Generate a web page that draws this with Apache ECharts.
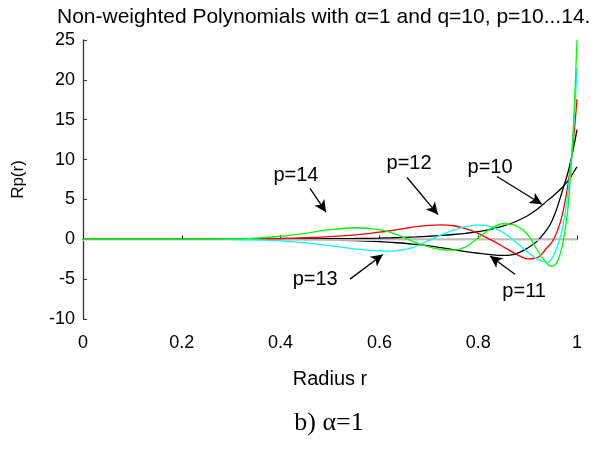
<!DOCTYPE html>
<html><head><meta charset="utf-8">
<script src="https://cdn.jsdelivr.net/npm/echarts@6/dist/echarts.min.js"></script>
<style>html,body{margin:0;padding:0;background:#fff}#c{width:602px;height:450px}</style>
</head><body><div id="c"></div>
<script>
// Sample radii (shared by all curves)
const radius = [0, 0.1, 0.2, 0.25, 0.3, 0.35, 0.4, 0.45, 0.5, 0.55, 0.6, 0.625, 0.65, 0.675, 0.7, 0.725, 0.75, 0.775, 0.8, 0.825, 0.85, 0.875, 0.9, 0.92, 0.94, 0.95, 0.96, 0.97, 0.98, 0.985, 0.99, 0.995, 1.0];
// Values
const p10 = [0, 0, 0, 0, 0, 0.01, 0.02, 0.04, 0.07, 0.1, 0.15, 0.19, 0.24, 0.3, 0.38, 0.48, 0.6, 0.75, 0.95, 1.25, 1.65, 2.2, 2.95, 3.8, 4.85, 5.35, 5.9, 6.5, 7.2, 7.6, 8.1, 8.6, 9.1];
const p11 = [0, 0, 0, 0, 0, -0.01, -0.03, -0.06, -0.1, -0.18, -0.3, -0.4, -0.5, -0.65, -0.82, -1.05, -1.3, -1.55, -1.75, -1.92, -2.02, -1.85, -1.1, -0.2, 1.3, 2.4, 4.0, 6.0, 8.0, 9.2, 10.6, 12.1, 13.75];
const p12 = [0, 0, 0, 0, 0.01, 0.04, 0.1, 0.2, 0.33, 0.55, 0.9, 1.1, 1.35, 1.58, 1.75, 1.82, 1.7, 1.35, 0.75, -0.05, -0.9, -1.8, -2.45, -2.3, -1.0, -0.3, 1.0, 3.0, 6.2, 8.3, 10.8, 13.9, 17.6];
const p13 = [0, 0, 0, 0, -0.02, -0.07, -0.2, -0.45, -0.8, -1.2, -1.45, -1.48, -1.3, -0.85, -0.15, 0.55, 1.15, 1.6, 1.8, 1.6, 0.85, -0.3, -1.6, -2.5, -2.9, -2.3, -0.9, 1.2, 5.0, 7.8, 11.2, 15.8, 21.5];
const p14 = [0, 0, 0, 0, 0.04, 0.15, 0.38, 0.75, 1.2, 1.45, 1.2, 0.8, 0.2, -0.45, -0.95, -1.28, -1.35, -0.95, 0.2, 1.3, 1.95, 1.75, 0.6, -1.4, -3.1, -3.4, -2.8, -0.9, 3.0, 6.5, 11.0, 17.2, 25.0];

const seriesNames = ['p=10', 'p=11', 'p=12', 'p=13', 'p=14'];
const seriesColors = ['#000000', '#000000', '#ff0000', '#00ffff', '#00ff00'];
const seriesValues = [p10, p11, p12, p13, p14];

// Annotations (data coordinates)
const noteText = ['p=14', 'p=12', 'p=10', 'p=13', 'p=11'];
const noteR = [0.431, 0.660, 0.824, 0.470, 0.893];
const noteV = [8.0, 9.5, 9.0, -5.1, -6.5];
const arrowFromR = [0.4595, 0.656, 0.838, 0.5405, 0.8745];
const arrowFromV = [6.4, 7.75, 7.875, -5.0, -4.375];
const arrowToR = [0.492, 0.7186, 0.929, 0.607, 0.824];
const arrowToV = [3.4, 3.1, 4.4, -1.9, -2.1];

const xTicks = [0, 0.2, 0.4, 0.6, 0.8, 1];
const yTicks = [-10, -5, 0, 5, 10, 15, 20, 25];

const FONT = 'Liberation Sans, Arial, sans-serif';
const chart = echarts.init(document.getElementById('c'), null, {renderer: 'canvas'});

const series = seriesValues.map((vals, i) => ({
  name: seriesNames[i],
  type: 'line',
  data: radius.map((r, k) => [r, vals[k]]),
  showSymbol: false,
  smooth: 0.35,
  lineStyle: {color: seriesColors[i], width: 1.3},
  itemStyle: {color: seriesColors[i]},
  z: 3 + i,
  silent: true
}));

// zero reference line
series.unshift({
  type: 'line', data: [], silent: true, z: 2,
  markLine: {
    silent: true, symbol: ['none', 'none'], label: {show: false},
    lineStyle: {color: '#ececec', type: 'solid', width: 1.5},
    data: [{yAxis: 0}]
  }
});

// arrows
series.push({
  type: 'line', data: [], silent: true, z: 10,
  markLine: {
    silent: true, symbol: ['none', 'arrow'], symbolSize: [9, 12], label: {show: false},
    lineStyle: {color: '#000', type: 'solid', width: 1.3},
    data: noteText.map((t, i) => [{coord: [arrowFromR[i], arrowFromV[i]]}, {coord: [arrowToR[i], arrowToV[i]]}])
  }
});

chart.setOption({
  animation: false,
  backgroundColor: '#fff',
  title: {
    text: 'Non-weighted Polynomials with α=1 and q=10, p=10...14.',
    left: 52, top: 2,
    textStyle: {fontFamily: FONT, fontSize: 21, fontWeight: 'normal', color: '#000'}
  },
  grid: {left: 83, right: 25, top: 40, bottom: 131, containLabel: false},
  xAxis: {
    type: 'value', min: 0, max: 1, interval: 0.2,
    name: 'Radius r', nameLocation: 'middle', nameGap: 50,
    nameTextStyle: {fontFamily: FONT, fontSize: 20, color: '#000'},
    axisLine: {show: true, lineStyle: {color: '#333', width: 1.3}},
    axisTick: {show: true, inside: true, length: 4, lineStyle: {color: '#333'}},
    axisLabel: {fontFamily: FONT, fontSize: 18, color: '#000', margin: 15,
      formatter: v => (xTicks.includes(+v.toFixed(1)) ? String(+v.toFixed(1)) : '')},
    splitLine: {show: false}
  },
  yAxis: {
    type: 'value', min: -10, max: 25, interval: 5,
    name: 'Rp(r)', nameLocation: 'middle', nameGap: 56,
    nameTextStyle: {fontFamily: FONT, fontSize: 17, color: '#000'},
    axisLine: {show: true, onZero: false, lineStyle: {color: '#333', width: 1.3}},
    axisTick: {show: true, inside: true, length: 4, lineStyle: {color: '#333'}},
    axisLabel: {fontFamily: FONT, fontSize: 18, color: '#000', margin: 8,
      formatter: v => (yTicks.includes(v) ? String(v) : '')},
    splitLine: {show: false}
  },
  series: series
});

// annotation labels positioned through the grid's own coordinate conversion
const gfx = noteText.map((t, i) => {
  const p = chart.convertToPixel({gridIndex: 0}, [noteR[i], noteV[i]]);
  return {
    type: 'text', x: p[0], y: p[1], z: 20,
    style: {text: t, fill: '#000', font: '20px "Liberation Sans", Arial, sans-serif',
      align: 'center', verticalAlign: 'middle'}
  };
});
gfx.push({
  type: 'text', x: 329, y: 423, z: 20,
  style: {text: 'b) α=1', font: '26px "Liberation Serif", "Times New Roman", serif', fill: '#000',
    align: 'center', verticalAlign: 'middle'}
});
chart.setOption({graphic: gfx});
</script></body></html>
